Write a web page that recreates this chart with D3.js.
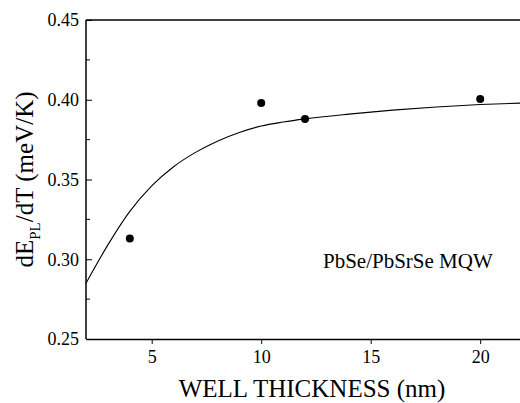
<!DOCTYPE html>
<html>
<head>
<meta charset="utf-8">
<script src="https://cdn.jsdelivr.net/npm/d3@7"></script>
<style>
  body { margin: 0; background: #fff; }
  svg { display: block; }
  svg text { font-family: "Liberation Serif", "Times New Roman", "DejaVu Serif", serif; }
</style>
</head>
<body>
<div id="chart"></div>
<script>
const width = 520;
const height = 403;

const margin = { top: 20, left: 86, bottom: 64, right: -4 };

// measured points
const wellX = [4, 10, 12, 20];
const slopeY = [0.313, 0.398, 0.388, 0.4005];

// fitted curve
const fitX = [2, 3, 4, 5, 6, 7, 8, 9, 10, 11, 12, 14, 16, 18, 20, 22];
const fitY = [0.285, 0.309, 0.330, 0.346, 0.358, 0.367, 0.374, 0.3795, 0.3835, 0.386, 0.388, 0.391, 0.3935, 0.3955, 0.397, 0.398];

const xTicks = [5, 10, 15, 20];
const yTicks = [0.25, 0.30, 0.35, 0.40, 0.45];
const yMinor = [0.275, 0.325, 0.375, 0.425];

const font = '"Liberation Serif", "Times New Roman", "DejaVu Serif", serif';

const xScale = d3.scaleLinear().domain([2, 22]).range([margin.left, width - margin.right]);
const yScale = d3.scaleLinear().domain([0.25, 0.45]).range([height - margin.bottom, margin.top]);

const svg = d3.select("#chart").append("svg")
    .attr("width", width).attr("height", height)
    .attr("font-family", font);

// frame: left and top
svg.append("line")
    .attr("x1", xScale(2)).attr("x2", xScale(2))
    .attr("y1", yScale(0.45)).attr("y2", yScale(0.25))
    .style("stroke", "#000").style("stroke-width", 1.5);
svg.append("line")
    .attr("x1", xScale(2)).attr("x2", xScale(22))
    .attr("y1", yScale(0.45)).attr("y2", yScale(0.45))
    .style("stroke", "#000").style("stroke-width", 1.5);

// x axis, ticks pointing down
const xAxis = svg.append("g")
    .attr("transform", `translate(0,${yScale(0.25)})`)
    .call(d3.axisBottom(xScale).tickValues(xTicks).tickSize(5).tickSizeOuter(0).tickPadding(6).tickFormat(d3.format("d")));
xAxis.attr("font-family", font);
xAxis.select(".domain").style("stroke-width", 1.5);
xAxis.selectAll("text").style("font-family", font).style("font-size", "18px").attr("fill", "#000");

// y axis, ticks pointing in
const yAxis = svg.append("g")
    .attr("transform", `translate(${xScale(2)},0)`)
    .call(d3.axisRight(yScale).tickValues(yTicks).tickSize(6).tickSizeOuter(0).tickFormat(d3.format(".2f")));
yAxis.attr("font-family", font);
yAxis.select(".domain").remove();
yAxis.selectAll("text")
    .attr("x", -7)
    .attr("text-anchor", "end")
    .style("font-family", font).style("font-size", "18px").attr("fill", "#000");

svg.append("g")
    .selectAll("line")
    .data(yMinor)
    .join("line")
    .attr("x1", xScale(2)).attr("x2", xScale(2) + 4)
    .attr("y1", d => yScale(d)).attr("y2", d => yScale(d))
    .style("stroke", "#000");

// fitted curve
const line = d3.line()
    .x(d => xScale(d[0]))
    .y(d => yScale(d[1]))
    .curve(d3.curveMonotoneX);

svg.append("path")
    .datum(fitX.map((x, i) => [x, fitY[i]]))
    .attr("d", line)
    .attr("fill", "none")
    .style("stroke", "#000")
    .style("stroke-width", 1.1);

// points
svg.selectAll("circle")
    .data(wellX.map((x, i) => [x, slopeY[i]]))
    .join("circle")
    .attr("cx", d => xScale(d[0]))
    .attr("cy", d => yScale(d[1]))
    .attr("r", 4)
    .attr("fill", "#000");

// labels
svg.append("text")
    .attr("x", 312)
    .attr("y", 397)
    .attr("text-anchor", "middle")
    .style("font-size", "25px")
    .text("WELL THICKNESS (nm)");

const yLabel = svg.append("text")
    .attr("transform", `translate(33,${(yScale(0.25) + yScale(0.45)) / 2}) rotate(-90)`)
    .attr("text-anchor", "middle")
    .style("font-size", "25px");
yLabel.append("tspan").text("dE");
yLabel.append("tspan").attr("dy", 7).style("font-size", "15px").text("PL");
yLabel.append("tspan").attr("dy", -7).text("/dT (meV/K)");

svg.append("text")
    .attr("x", 323)
    .attr("y", 268)
    .style("font-size", "21px")
    .text("PbSe/PbSrSe MQW");
</script>
</body>
</html>
